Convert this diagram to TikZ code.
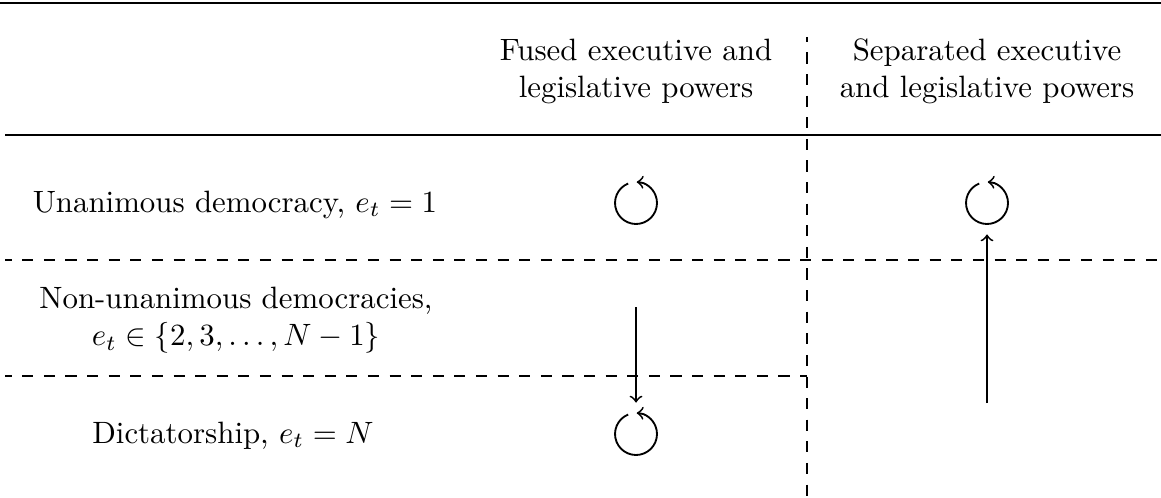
\documentclass[tikz,border=0pt]{standalone}
\usepackage{amsmath,amssymb}
\usepackage{tikz}
\usetikzlibrary{positioning,calc}

\tikzset{
  rowlabel/.style={align=center,inner sep=0pt},
  loopspot/.style={circle,minimum size=20pt,inner sep=0pt},
  trans/.style={->,semithick},
  divider/.style={thin,dash pattern=on 3.6pt off 3.4pt,dash phase=1.4pt}
}

\begin{document}
\begin{tikzpicture}[x=0.324pt,y=0.324pt]
\useasboundingbox (0,0) rectangle (1161,497);
% rules
\draw[line width=0.8pt] (0,494) -- (1161,494);
\draw[line width=0.5pt] (5,362) -- (1161,362);
% dividers
\draw[divider] (5,237) -- (1161,237);
\draw[divider] (5,121) -- (807,121);
\draw[divider,dash phase=2pt] (807,460) -- (807,0);
% headers
\node[rowlabel] (colF) at (636,426) {Fused executive and\\legislative powers};
\node[rowlabel] (colS) at (987,426) {Separated executive\\and legislative powers};
% row labels
\node[rowlabel,anchor=base] (rowU) at (235,285) {Unanimous democracy, $e_t=1$};
\node[rowlabel] (rowN) at (236,177) {Non-unanimous democracies,\\$e_t\in\{2,3,\ldots,N-1\}$};
\node[rowlabel,anchor=base] (rowD) at (233,54) {Dictatorship, $e_t=N$};
% loops
\node[loopspot] (loopFU) at (636,294) {};
\node[loopspot] (loopSU) at (987,294) {};
\node[loopspot] (loopFD) at (636,63) {};
\draw[trans] (loopFU.center) ++(112:6.8pt) arc[start angle=112,end angle=448,radius=6.8pt];
\draw[trans] (loopSU.center) ++(112:6.8pt) arc[start angle=112,end angle=448,radius=6.8pt];
\draw[trans] (loopFD.center) ++(112:6.8pt) arc[start angle=112,end angle=448,radius=6.8pt];
% transitions
\coordinate (fusedStart) at (636,190);
\coordinate (sepStart) at (987,94);
\draw[trans] (fusedStart) -- (loopFD);
\draw[trans] (sepStart) -- (loopSU);
\end{tikzpicture}
\end{document}
